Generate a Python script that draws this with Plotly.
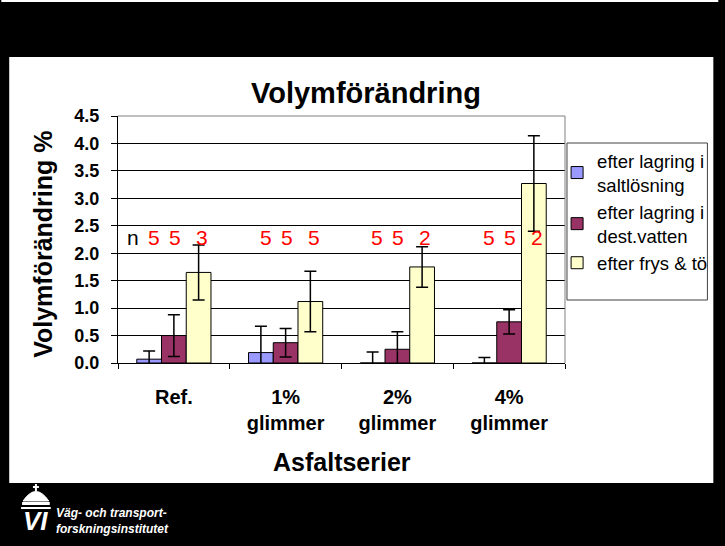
import plotly.graph_objects as go

# ---------------- data ----------------
categories = ["Ref.", "1%<br>glimmer", "2%<br>glimmer", "4%<br>glimmer"]
series_names = ["efter lagring i<br>saltlösning", "efter lagring i<br>dest.vatten", "efter frys & tö"]
salt = [0.07, 0.19, 0.0, 0.0]
salt_err = [0.15, 0.48, 0.20, 0.10]
dest = [0.50, 0.37, 0.25, 0.75]
dest_err = [0.38, 0.26, 0.32, 0.22]
frys = [1.65, 1.12, 1.75, 3.27]
frys_err = [0.50, 0.55, 0.37, 0.87]
n_counts = [[5, 5, 3], [5, 5, 5], [5, 5, 2], [5, 5, 2]]
y_ticks = [0.0, 0.5, 1.0, 1.5, 2.0, 2.5, 3.0, 3.5, 4.0, 4.5]

# ---------------- layout geometry ----------------
W, H = 725, 546
L, R, T, B = 118, 155, 116, 183
PW, PH = W - L - R, H - T - B
FONT = "Liberation Sans, Arial, sans-serif"


def px(x):
    return (x - L) / PW


def py(y):
    return (H - B - y) / PH


colors = ["#9999FF", "#993366", "#FFFFCC"]
values = [salt, dest, frys]
errors = [salt_err, dest_err, frys_err]

fig = go.Figure()
for name, vals, errs, col in zip(series_names, values, errors, colors):
    fig.add_trace(go.Bar(
        x=categories, y=vals, name=name,
        marker=dict(color=col, line=dict(color="black", width=1)),
        error_y=dict(type="data", array=errs, visible=True,
                     color="black", thickness=1.5, width=6),
    ))

shapes = [
    # white slide area
    dict(type="rect", xref="paper", yref="paper", layer="below",
         x0=px(8), x1=px(720), y0=py(483), y1=py(57),
         fillcolor="white", line=dict(width=0)),
    dict(type="rect", xref="paper", yref="paper", layer="below",
         x0=px(0), x1=px(725), y0=py(2), y1=py(0),
         fillcolor="white", line=dict(width=0)),
    # legend box
    dict(type="rect", xref="paper", yref="paper", layer="below",
         x0=px(572), x1=px(714), y0=py(300), y1=py(143),
         fillcolor="white", line=dict(color="#404040", width=1)),
    # plot area top/right border
    dict(type="path", xref="paper", yref="paper", layer="above",
         path="M 0,1 L 1,1 L 1,0", line=dict(color="#808080", width=1)),
    # logo (rough): cross, dome, bands
    dict(type="line", xref="paper", yref="paper", x0=px(35), x1=px(35), y0=py(491), y1=py(484),
         line=dict(color="white", width=2)),
    dict(type="line", xref="paper", yref="paper", x0=px(32), x1=px(38), y0=py(487), y1=py(487),
         line=dict(color="white", width=2)),
    dict(type="path", xref="paper", yref="paper",
         path=f"M {px(22)},{py(501)} Q {px(35)},{py(482)} {px(48)},{py(501)} Z",
         fillcolor="white", line=dict(color="white", width=1)),
    dict(type="rect", xref="paper", yref="paper", x0=px(21), x1=px(49), y0=py(505), y1=py(502),
         fillcolor="white", line=dict(width=0)),
    dict(type="rect", xref="paper", yref="paper", x0=px(20), x1=px(50), y0=py(509), y1=py(507),
         fillcolor="white", line=dict(width=0)),
]

annotations = [
    dict(text="Volymförändring", xref="paper", yref="paper", x=px(369), y=py(93),
         xanchor="center", yanchor="middle", showarrow=False,
         font=dict(family=FONT, size=29, color="black", weight="bold")),
    dict(text="Volymförändring %", xref="paper", yref="paper", x=px(42), y=py(244),
         xanchor="center", yanchor="middle", showarrow=False, textangle=-90,
         font=dict(family=FONT, size=25, color="black", weight="bold")),
    dict(text="Asfaltserier", xref="paper", yref="paper", x=px(345), y=py(462),
         xanchor="center", yanchor="middle", showarrow=False,
         font=dict(family=FONT, size=25, color="black", weight="bold")),
    dict(text="n", xref="x", yref="y", x=categories[0], y=2.28, xshift=-41,
         showarrow=False, font=dict(family=FONT, size=21, color="black")),
    dict(text="<i>Väg- och transport-<br>forskningsinstitutet</i>", xref="paper", yref="paper",
         x=px(53), y=py(521), xanchor="left", yanchor="middle", showarrow=False, align="left",
         font=dict(family=FONT, size=12, color="white", weight="bold")),
    dict(text="<i>VI</i>", xref="paper", yref="paper",
         x=px(35), y=py(521), xanchor="center", yanchor="middle", showarrow=False,
         font=dict(family=FONT, size=26, color="white", weight="bold")),
]

offsets = [-20, 1, 28]
for cat, counts in zip(categories, n_counts):
    for off, c in zip(offsets, counts):
        annotations.append(dict(text=str(c), xref="x", yref="y", x=cat, y=2.28, xshift=off,
                                showarrow=False, font=dict(family=FONT, size=21, color="red")))

fig.update_layout(
    width=W, height=H,
    margin=dict(l=L, r=R, t=T, b=B, pad=0),
    paper_bgcolor="black",
    plot_bgcolor="#C0C0C0",
    barmode="group", bargap=0.336, bargroupgap=0,
    showlegend=True,
    legend=dict(x=px(562), y=py(142), xanchor="left", yanchor="top",
                bgcolor="rgba(0,0,0,0)", borderwidth=0,
                font=dict(family=FONT, size=18.5, color="black"),
                itemclick=False, itemdoubleclick=False),
    shapes=shapes,
    annotations=annotations,
    font=dict(family=FONT, color="black"),
)

fig.update_xaxes(
    type="category", showline=True, linecolor="black", linewidth=1,
    ticks="outside", tickson="boundaries", ticklen=5, tickcolor="black",
    tickfont=dict(family=FONT, size=20, color="black", weight="bold"),
    ticklabelstandoff=16, showgrid=False,
)
fig.update_yaxes(
    range=[0, 4.5], tickvals=y_ticks, tickformat=".1f",
    showline=True, linecolor="black", linewidth=1,
    ticks="outside", ticklen=6, tickcolor="black",
    tickfont=dict(family=FONT, size=18, color="black", weight="bold"),
    ticklabelstandoff=8,
    showgrid=True, gridcolor="black", gridwidth=1, zeroline=False,
)

fig.write_html("out.html", config={"displayModeBar": False},
               post_script="document.body.style.margin='0';document.body.style.padding='0';")
